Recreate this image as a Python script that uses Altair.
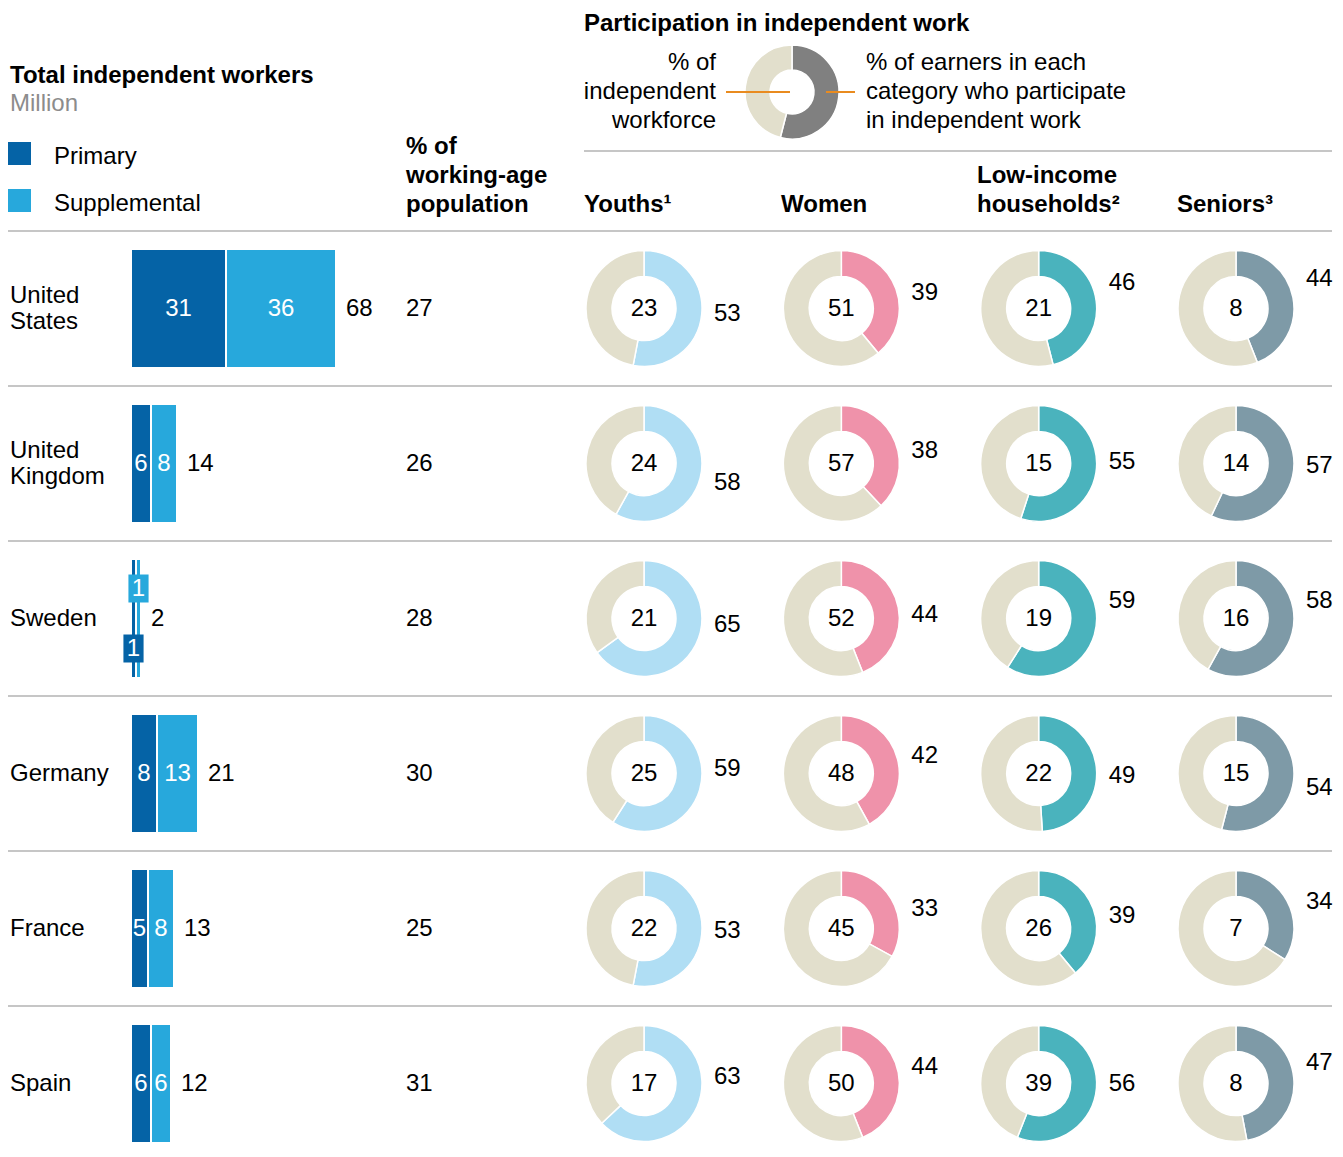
import altair as alt
import pandas as pd

FONT = "Liberation Sans"

# ---------------- data ----------------
countries = ["United States", "United Kingdom", "Sweden", "Germany", "France", "Spain"]
country_labels = ["United\nStates", "United\nKingdom", "Sweden", "Germany", "France", "Spain"]
primary = [31, 6, 1, 8, 5, 6]
supplemental = [36, 8, 1, 13, 8, 6]
totals = [68, 14, 2, 21, 13, 12]
working_age_pct = [27, 26, 28, 30, 25, 31]

categories = ["Youths", "Women", "Low-income", "Seniors"]
share_of_workforce = {
    "Youths": [23, 24, 21, 25, 22, 17],
    "Women": [51, 57, 52, 48, 45, 50],
    "Low-income": [21, 15, 19, 22, 26, 39],
    "Seniors": [8, 14, 16, 15, 7, 8],
}
participation = {
    "Youths": [53, 58, 65, 59, 53, 63],
    "Women": [39, 38, 44, 42, 33, 44],
    "Low-income": [46, 55, 59, 49, 39, 56],
    "Seniors": [44, 57, 58, 54, 34, 47],
}
legend_example = [54, 46]

# label nudges (px, vertical) for the participation numbers beside each donut
label_nudge = {
    "Youths": [5, 19, 6, -5, 2, -7],
    "Women": [-16, -13, -4, -18, -20, -17],
    "Low-income": [-26, -2, -18, 2, -13, 0],
    "Seniors": [-30, 2, -18, 14, -27, -21],
}

# ---------------- style ----------------
PRIMARY = "#0563A6"
SUPP = "#27A8DC"
SEP = "#C6C6C6"
BEIGE = "#E2DFCC"
GRAY = "#808080"
ORANGE = "#E98B1F"
cat_colors = ["#B0DEF4", "#EF92AA", "#4AB3BD", "#7E9AA7"]

W, H = 1327, 1136
ROW_RANGE = [223, 1153]
BAR_RANGE = [124, 424]
DONUT_RANGE = [636, 1228]
FS = 24

y_band = alt.Scale(domain=countries, range=ROW_RANGE, paddingInner=0, paddingOuter=0)
bar_scale = alt.Scale(domain=[0, 100], range=BAR_RANGE)
donut_x = alt.Scale(type="point", domain=categories, range=DONUT_RANGE, padding=0)
theta_scale = alt.Scale(domain=[0, 100], range=[0, 6.283185307179586])
color_scale = alt.Scale(domain=categories + ["rest", "example"], range=cat_colors + [BEIGE, GRAY])


def Yc():
    return alt.Y("country:N", scale=y_band, axis=None)


one = pd.DataFrame({"k": [0]})


def txt(lines, x, y, weight="normal", color="#000000", align="left", size=FS, lh=29):
    return alt.Chart(one).mark_text(
        text=lines, align=align, baseline="alphabetic", fontSize=size,
        fontWeight=weight, color=color, font=FONT, lineHeight=lh,
    ).encode(x=alt.value(x), y=alt.value(y))


# ---------------- tables ----------------
bars = pd.DataFrame({
    "country": countries, "label": country_labels, "primary": primary,
    "supplemental": supplemental, "total": totals, "pct": working_age_pct,
})
bars["zero"] = 0
bars["mid"] = bars["primary"]
bars["end"] = bars["primary"] + bars["supplemental"]
bars["pc"] = bars["primary"] / 2
bars["sc"] = bars["primary"] + bars["supplemental"] / 2
bars["narrow"] = bars["total"] <= 3
bars["twoline"] = bars["label"].str.contains("\n")

seg_rows, lab_rows = [], []
for cat in categories:
    for i, c in enumerate(countries):
        p = participation[cat][i]
        seg_rows.append({"country": c, "category": cat, "start": 0, "end": p, "key": cat})
        seg_rows.append({"country": c, "category": cat, "start": p, "end": 100, "key": "rest"})
        lab_rows.append({
            "country": c, "category": cat, "share": share_of_workforce[cat][i],
            "part": p, "slot": i + 0.5 + label_nudge[cat][i] / 155.0,
        })
segs = pd.DataFrame(seg_rows)
labs = pd.DataFrame(lab_rows)

leg = pd.DataFrame({
    "start": [0, legend_example[0]],
    "end": [legend_example[0], 100],
    "key": ["example", "rest"],
})

# ---------------- layers ----------------
layers = []

# separators
layers.append(alt.Chart(bars).mark_rule(color=SEP, strokeWidth=2).encode(
    y=alt.Y("country:N", scale=y_band, bandPosition=0, axis=None),
    x=alt.value(0), x2=alt.value(1324)))
layers.append(alt.Chart(one).mark_rule(color=SEP, strokeWidth=2).encode(
    y=alt.value(143), x=alt.value(576), x2=alt.value(1324)))

# headers
layers.append(txt("Participation in independent work", 576, 23, weight="bold"))
layers.append(txt("Total independent workers", 2, 75, weight="bold"))
layers.append(txt("Million", 2, 103, color="#8C8C8C"))
layers.append(txt("Primary", 46, 156))
layers.append(txt("Supplemental", 46, 203))
layers.append(alt.Chart(one).mark_rect(color=PRIMARY).encode(
    x=alt.value(0), x2=alt.value(23), y=alt.value(134), y2=alt.value(157)))
layers.append(alt.Chart(one).mark_rect(color=SUPP).encode(
    x=alt.value(0), x2=alt.value(23), y=alt.value(181), y2=alt.value(204)))
layers.append(txt(["% of", "working-age", "population"], 398, 146, weight="bold"))
layers.append(txt(["% of", "independent", "workforce"], 708, 62, align="right"))
layers.append(txt(["% of earners in each", "category who participate", "in independent work"], 858, 62))
layers.append(txt("Youths¹", 576, 204, weight="bold"))
layers.append(txt("Women", 773, 204, weight="bold"))
layers.append(txt(["Low-income", "households²"], 969, 175, weight="bold"))
layers.append(txt("Seniors³", 1169, 204, weight="bold"))

# legend donut
layers.append(alt.Chart(leg).mark_arc(radius=47, radius2=22, stroke="white", strokeWidth=1.5).encode(
    x=alt.value(784), y=alt.value(84),
    theta=alt.Theta("start:Q", scale=theta_scale, stack=None), theta2="end:Q",
    color=alt.Color("key:N", scale=color_scale, legend=None)))
layers.append(alt.Chart(one).mark_rule(color=ORANGE, strokeWidth=2).encode(
    y=alt.value(84), x=alt.value(718), x2=alt.value(782)))
layers.append(alt.Chart(one).mark_rule(color=ORANGE, strokeWidth=2).encode(
    y=alt.value(84), x=alt.value(818), x2=alt.value(847)))

# country labels (two-line ones shifted up half a line so the block is centred)
layers.append(alt.Chart(bars).transform_filter("datum.twoline").mark_text(
    align="left", baseline="middle", lineBreak="\n", lineHeight=26, dy=-13,
    fontSize=FS, font=FONT, color="#000"
).encode(x=alt.value(2), y=Yc(), text="label:N"))
layers.append(alt.Chart(bars).transform_filter("!datum.twoline").mark_text(
    align="left", baseline="middle", fontSize=FS, font=FONT, color="#000"
).encode(x=alt.value(2), y=Yc(), text="label:N"))

# bars
layers.append(alt.Chart(bars).mark_bar(height=117, color=PRIMARY).encode(
    x=alt.X("zero:Q", scale=bar_scale, axis=None), x2="mid:Q", y=Yc()))
layers.append(alt.Chart(bars).mark_bar(height=117, color=SUPP, xOffset=2, x2Offset=2).encode(
    x=alt.X("mid:Q", scale=bar_scale, axis=None), x2="end:Q", y=Yc()))

# bar value labels (wide bars)
layers.append(alt.Chart(bars).transform_filter("!datum.narrow").mark_text(
    color="white", fontSize=FS, font=FONT, baseline="middle", align="center"
).encode(x=alt.X("pc:Q", scale=bar_scale, axis=None), y=Yc(), text="primary:Q"))
layers.append(alt.Chart(bars).transform_filter("!datum.narrow").mark_text(
    color="white", fontSize=FS, font=FONT, baseline="middle", align="center", dx=2
).encode(x=alt.X("sc:Q", scale=bar_scale, axis=None), y=Yc(), text="supplemental:Q"))

# narrow bars: labels in boxes
BOX = "M-0.72,-1H0.72V1H-0.72Z"
layers.append(alt.Chart(bars).transform_filter("datum.narrow").mark_point(
    shape=BOX, size=784, filled=True, opacity=1, color=PRIMARY, yOffset=30
).encode(x=alt.X("pc:Q", scale=bar_scale, axis=None), y=Yc()))
layers.append(alt.Chart(bars).transform_filter("datum.narrow").mark_point(
    shape=BOX, size=784, filled=True, opacity=1, color=SUPP, yOffset=-30, xOffset=2
).encode(x=alt.X("sc:Q", scale=bar_scale, axis=None), y=Yc()))
layers.append(alt.Chart(bars).transform_filter("datum.narrow").mark_text(
    color="white", fontSize=FS, font=FONT, baseline="middle", align="center", dy=30
).encode(x=alt.X("pc:Q", scale=bar_scale, axis=None), y=Yc(), text="primary:Q"))
layers.append(alt.Chart(bars).transform_filter("datum.narrow").mark_text(
    color="white", fontSize=FS, font=FONT, baseline="middle", align="center", dy=-30, dx=2
).encode(x=alt.X("sc:Q", scale=bar_scale, axis=None), y=Yc(), text="supplemental:Q"))

# totals
layers.append(alt.Chart(bars).mark_text(
    align="left", baseline="middle", dx=13, fontSize=FS, font=FONT, color="#000"
).encode(x=alt.X("end:Q", scale=bar_scale, axis=None), y=Yc(), text="total:Q"))

# working-age %
layers.append(alt.Chart(bars).mark_text(
    align="left", baseline="middle", fontSize=FS, font=FONT, color="#000"
).encode(x=alt.value(398), y=Yc(), text="pct:Q"))

# donuts
layers.append(alt.Chart(segs).mark_arc(radius=58, radius2=32, stroke="white", strokeWidth=1.5).encode(
    x=alt.X("category:N", scale=donut_x, axis=None), y=Yc(),
    theta=alt.Theta("start:Q", scale=theta_scale, stack=None), theta2="end:Q",
    color=alt.Color("key:N", scale=color_scale, legend=None)))
layers.append(alt.Chart(labs).mark_text(
    align="center", baseline="middle", fontSize=FS, font=FONT, color="#000"
).encode(x=alt.X("category:N", scale=donut_x, axis=None), y=Yc(), text="share:Q"))
layers.append(alt.Chart(labs).mark_text(
    align="left", baseline="middle", dx=70, fontSize=FS, font=FONT, color="#000"
).encode(
    x=alt.X("category:N", scale=donut_x, axis=None),
    y=alt.Y("slot:Q", scale=alt.Scale(domain=[0, 6], range=ROW_RANGE), axis=None),
    text="part:Q"))

chart = alt.layer(*layers).resolve_scale(x="independent", y="independent").properties(
    width=W, height=H, padding=0, autosize=alt.AutoSizeParams(type="none")
).configure(font=FONT).configure_view(stroke=None, strokeWidth=0)

chart.save("out.html", embed_options={"renderer": "svg", "actions": False})
